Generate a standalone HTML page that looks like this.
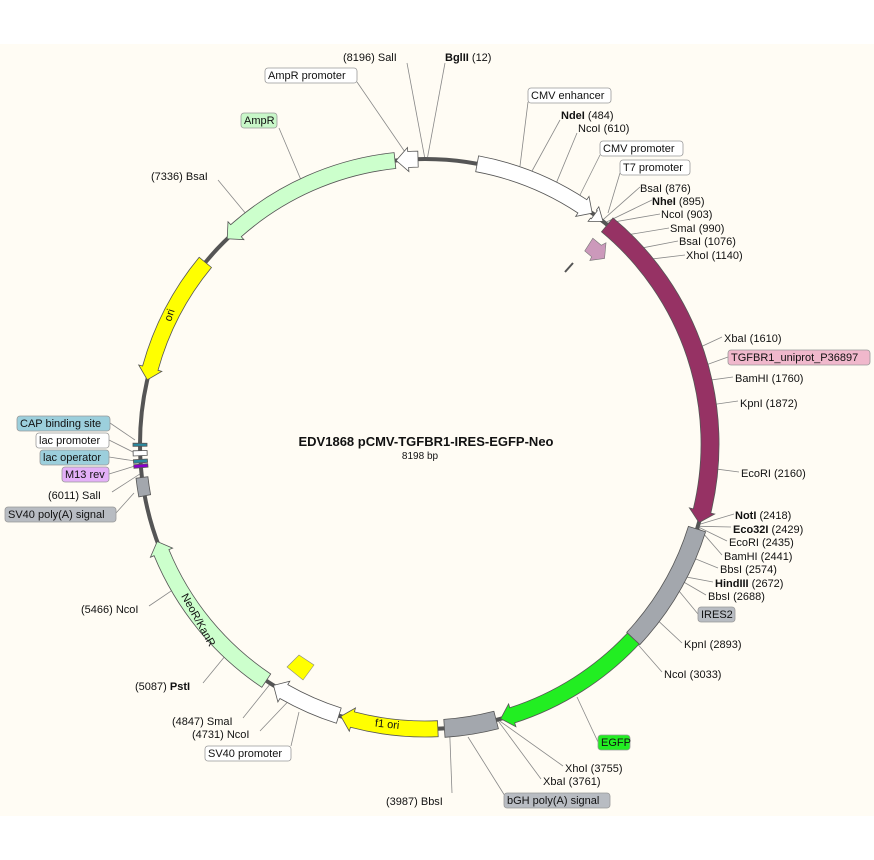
<!DOCTYPE html>
<html><head><meta charset="utf-8"><style>
html,body{margin:0;padding:0;background:#fff}
svg{display:block}
text{font-family:"Liberation Sans",sans-serif;font-size:11px;fill:#111}
.b{font-weight:bold}
</style></head><body>
<svg id="s" width="874" height="860" viewBox="0 0 874 860" xmlns="http://www.w3.org/2000/svg">
<rect x="0" y="44" width="874" height="772" fill="#fffcf4"/>
<g id="lines" stroke="#888" stroke-width="0.8" fill="none"></g>
<circle cx="425" cy="444" r="285" fill="none" stroke="#555" stroke-width="4"/>
<g id="feat" stroke="#555" stroke-width="0.8"></g>
<polygon points="586,243 597,243 599,238 608,251 598,262 597,258 588,258" fill="#cc99bb" stroke="#777" stroke-width="0.6" transform="rotate(40 596 250)"/>
<line x1="565" y1="272" x2="573" y2="263" stroke="#555" stroke-width="2"/>
<polygon points="287,667 299,655 314,665 303,680" fill="#ffff00" stroke="#888" stroke-width="0.6"/>
<text x="0" y="0" transform="translate(171,322) rotate(-72)" style="font-size:11px">ori</text>
<text x="0" y="0" transform="translate(181,596) rotate(61)" style="font-size:11px">NeoR/KanR</text>
<text x="375" y="728" transform="rotate(6 390 724)" style="font-size:11px">f1 ori</text>
<text x="426" y="446" text-anchor="middle" class="b" style="font-size:13px">EDV1868 pCMV-TGFBR1-IRES-EGFP-Neo</text>
<text x="420" y="459" text-anchor="middle" style="font-size:10px">8198  bp</text>
<g stroke="#999" stroke-width="0.8">
<rect x="265" y="68" width="92" height="15" rx="3" fill="#fff"/>
<rect x="241" y="113" width="36" height="15" rx="3" fill="#c8f7c8"/>
<rect x="528" y="88" width="83" height="15" rx="3" fill="#fff"/>
<rect x="600" y="141" width="83" height="15" rx="3" fill="#fff"/>
<rect x="620" y="160" width="70" height="15" rx="3" fill="#fff"/>
<rect x="728" y="350" width="142" height="15" rx="3" fill="#f0b8cc"/>
<rect x="698" y="607" width="37" height="15" rx="3" fill="#b8bcc2"/>
<rect x="598" y="735" width="32" height="15" rx="3" fill="#22ee22"/>
<rect x="504" y="793" width="106" height="15" rx="3" fill="#b8bcc2"/>
<rect x="205" y="746" width="86" height="15" rx="3" fill="#fff"/>
<rect x="5" y="507" width="111" height="15" rx="3" fill="#b8bcc2"/>
<rect x="62" y="467" width="47" height="15" rx="3" fill="#e4b0f8"/>
<rect x="40" y="450" width="69" height="15" rx="3" fill="#9ccfdc"/>
<rect x="36" y="433" width="73" height="15" rx="3" fill="#fff"/>
<rect x="17" y="416" width="93" height="15" rx="3" fill="#9ccfdc"/>
</g>
<text x="268" y="79">AmpR promoter</text>
<text x="244" y="124">AmpR</text>
<text x="531" y="99">CMV enhancer</text>
<text x="603" y="152">CMV promoter</text>
<text x="623" y="171">T7 promoter</text>
<text x="731" y="361">TGFBR1_uniprot_P36897</text>
<text x="701" y="618">IRES2</text>
<text x="601" y="746">EGFP</text>
<text x="507" y="804">bGH poly(A) signal</text>
<text x="208" y="757">SV40 promoter</text>
<text x="8" y="518">SV40 poly(A) signal</text>
<text x="65" y="478">M13 rev</text>
<text x="43" y="461">lac operator</text>
<text x="39" y="444">lac promoter</text>
<text x="20" y="427">CAP binding site</text>
<text x="343" y="61">(8196)  SalI</text>
<text x="445" y="61"><tspan class="b">BglII</tspan>  (12)</text>
<text x="561" y="119"><tspan class="b">NdeI</tspan>  (484)</text>
<text x="578" y="132">NcoI  (610)</text>
<text x="640" y="192">BsaI  (876)</text>
<text x="652" y="205"><tspan class="b">NheI</tspan>  (895)</text>
<text x="661" y="218">NcoI  (903)</text>
<text x="670" y="232">SmaI  (990)</text>
<text x="679" y="245">BsaI  (1076)</text>
<text x="686" y="259">XhoI  (1140)</text>
<text x="724" y="342">XbaI  (1610)</text>
<text x="735" y="382">BamHI  (1760)</text>
<text x="740" y="407">KpnI  (1872)</text>
<text x="741" y="477">EcoRI  (2160)</text>
<text x="735" y="519"><tspan class="b">NotI</tspan>  (2418)</text>
<text x="733" y="533"><tspan class="b">Eco32I</tspan>  (2429)</text>
<text x="729" y="546">EcoRI  (2435)</text>
<text x="724" y="560">BamHI  (2441)</text>
<text x="720" y="573">BbsI  (2574)</text>
<text x="715" y="587"><tspan class="b">HindIII</tspan>  (2672)</text>
<text x="708" y="600">BbsI  (2688)</text>
<text x="684" y="648">KpnI  (2893)</text>
<text x="664" y="678">NcoI  (3033)</text>
<text x="565" y="772">XhoI  (3755)</text>
<text x="543" y="785">XbaI  (3761)</text>
<text x="386" y="805">(3987)  BbsI</text>
<text x="172" y="725">(4847)  SmaI</text>
<text x="192" y="738">(4731)  NcoI</text>
<text x="135" y="690">(5087)  <tspan class="b">PstI</tspan></text>
<text x="81" y="613">(5466)  NcoI</text>
<text x="48" y="499">(6011)  SalI</text>
<text x="151" y="180">(7336)  BsaI</text>
</svg>
<script>
var cx=425,cy=444,R=285,N=8198;
function ang(p){return p*360/N;}
function pt(a,r){var t=a*Math.PI/180;return [(cx+r*Math.sin(t)).toFixed(1),(cy-r*Math.cos(t)).toFixed(1)];}
var ns="http://www.w3.org/2000/svg";
function add(g,tag,at){var e=document.createElementNS(ns,tag);for(var k in at)e.setAttribute(k,at[k]);document.getElementById(g).appendChild(e);return e;}
function feat(p1,p2,dir,fill,w,head){
 var a1=ang(p1),a2=ang(p2),ro=R+w/2,ri=R-w/2,e=4,hd=head?12/R*180/Math.PI:0,d;
 if(!head){var L=(a2-a1)>180?1:0,o1=pt(a1,ro),o2=pt(a2,ro),i2=pt(a2,ri),i1=pt(a1,ri);
  d="M"+o1+"A"+ro+","+ro+" 0 "+L+" 1 "+o2+"L"+i2+"A"+ri+","+ri+" 0 "+L+" 0 "+i1+"Z";}
 else if(dir>0){var b=a2-hd,L=(b-a1)>180?1:0;
  d="M"+pt(a1,ro)+"A"+ro+","+ro+" 0 "+L+" 1 "+pt(b,ro)+"L"+pt(b,ro+e)+"L"+pt(a2,R)+"L"+pt(b,ri-e)+"L"+pt(b,ri)+"A"+ri+","+ri+" 0 "+L+" 0 "+pt(a1,ri)+"Z";}
 else{var b=a1+hd,L=(a2-b)>180?1:0;
  d="M"+pt(a2,ro)+"A"+ro+","+ro+" 0 "+L+" 0 "+pt(b,ro)+"L"+pt(b,ro+e)+"L"+pt(a1,R)+"L"+pt(b,ri-e)+"L"+pt(b,ri)+"A"+ri+","+ri+" 0 "+L+" 1 "+pt(a2,ri)+"Z";}
 add("feat","path",{d:d,fill:fill});
}
feat(240,818,1,"#ffffff",16,1);
feat(830,880,1,"#ffffff",10,1);
feat(905,2414,1,"#963264",18,1);
feat(2445,3030,0,"#a3a7ad",18,0);
feat(3030,3748,1,"#22ee22",16,1);
feat(3770,4010,0,"#a3a7ad",18,0);
feat(4040,4490,1,"#ffff00",16,1);
feat(4500,4830,1,"#ffffff",16,1);
feat(4870,5693,1,"#ccffcc",16,1);
feat(5910,5995,0,"#a3a7ad",12,0);
feat(6040,6056,0,"#8800cc",14,0);
feat(6062,6078,0,"#2a8aa0",14,0);
feat(6095,6118,0,"#ffffff",14,0);
feat(6138,6152,0,"#2a8aa0",14,0);
feat(6445,7050,-1,"#ffff00",16,1);
feat(7197,8060,-1,"#ccffcc",16,1);
feat(8066,8166,-1,"#ffffff",16,1);
var S=[[8196,407,63],[12,445,63],[484,560,120],[610,577,133],[876,640,187],[895,652,200],[903,660,214],[990,669,228],[1076,678,241],[1140,685,255],[1610,722,337],[1760,733,377],[1872,738,401],[2160,739,472],[2418,734,514],[2429,731,527],[2435,727,541],[2441,722,555],[2574,718,568],[2672,713,582],[2688,706,595],[2893,682,643],[3033,662,672],[3755,563,766],[3761,541,779],[3987,452,793],[4847,243,718],[4731,260,731],[5087,203,683],[5466,149,606],[6011,112,492],[7336,218,180]];
S.forEach(function(s){var p=pt(ang(s[0]),R+2);add("lines","line",{x1:s[1],y1:s[2],x2:p[0],y2:p[1]});});
var F=[[357,82,405,152],[279,128,301,180],[528,102,520,166],[600,155,580,195],[620,173,608,213],[728,357,706,365],[698,614,679,591],[598,742,577,697],[505,796,468,737],[291,746,299,712],[116,513,134,493],[110,423,135,440],[109,440,135,453],[109,457,135,461],[109,474,135,466]];
F.forEach(function(f){add("lines","line",{x1:f[0],y1:f[1],x2:f[2],y2:f[3]});});
</script>
</body></html>
